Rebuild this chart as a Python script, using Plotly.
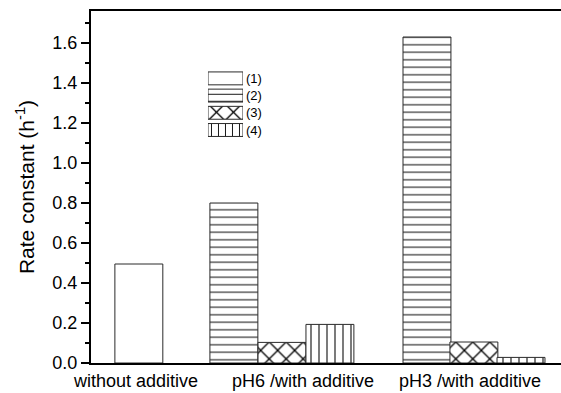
import plotly.graph_objects as go

# ---- data ----
categories = ["without additive", "pH6 /with additive", "pH3 /with additive"]
series_names = ["(1)", "(2)", "(3)", "(4)"]
s1 = [0.495, None, None]
s2 = [None, 0.80, 1.63]
s3 = [None, 0.103, 0.105]
s4 = [None, 0.193, 0.028]
values = [s1, s2, s3, s4]

# ---- styling ----
shapes = ["", "-", "x", "|"]
psize = [8, 7.5, 12, 8]
psol = [0.1, 0.13, 0.2, 0.13]
key_size = [8, 7, 12, 7]
bar_w = 0.287
offsets = [
    [-0.126, 0, 0],
    [0, -0.557, -0.401],
    [0, -0.269, -0.120],
    [0, 0.018, 0.162],
]

fig = go.Figure()
for i, name in enumerate(series_names):
    fig.add_trace(go.Bar(
        x=categories, y=values[i], name=name,
        width=bar_w, offset=offsets[i],
        marker=dict(color="white",
                    line=dict(color="#2a2a2a", width=1),
                    pattern=dict(shape=shapes[i], size=psize[i], solidity=psol[i],
                                 fgcolor="black", bgcolor="white", fillmode="replace")),
        showlegend=False, xaxis="x", yaxis="y", hoverinfo="skip"))
    # key swatch (legend box)
    fig.add_trace(go.Bar(
        y=[name], x=[1], orientation="h", width=0.75,
        marker=dict(color="white",
                    line=dict(color="#2a2a2a", width=1),
                    pattern=dict(shape=shapes[i], size=key_size[i], solidity=psol[i],
                                 fgcolor="black", bgcolor="white", fillmode="replace")),
        showlegend=False, xaxis="x2", yaxis="y2", hoverinfo="skip"))

fig.update_layout(
    width=561, height=393,
    margin=dict(l=91, r=0, t=11, b=30),
    paper_bgcolor="white", plot_bgcolor="white",
    barmode="overlay",
    font=dict(family="Liberation Sans, Arial, sans-serif", color="black"),
    xaxis=dict(type="category", categoryorder="array", categoryarray=categories,
               range=[-0.269, 2.545], showline=True, linecolor="black", linewidth=2,
               mirror=True, ticks="", showgrid=False, zeroline=False,
               tickfont=dict(size=18), domain=[0, 1]),
    yaxis=dict(range=[0, 1.76], dtick=0.2, tick0=0, tickformat=".1f",
               showline=True, linecolor="black", linewidth=2,
               ticks="outside", ticklen=8, tickwidth=1.5, tickcolor="black",
               minor=dict(dtick=0.1, ticks="outside", ticklen=4, tickwidth=1.5, tickcolor="black"),
               showgrid=False, zeroline=False, tickfont=dict(size=18),
               title=dict(text="Rate constant (h<sup>-1</sup>)", font=dict(size=21), standoff=12)),
    xaxis2=dict(domain=[0.2489, 0.3234], anchor="y2", range=[0, 1],
                visible=False, fixedrange=True),
    yaxis2=dict(domain=[0.6375, 0.833], anchor="x2", side="right", type="category",
                categoryorder="array", categoryarray=series_names, autorange="reversed",
                showline=False, ticks="", showgrid=False, zeroline=False,
                tickfont=dict(size=13), ticklabelstandoff=2),
)

fig.write_html("out.html")
